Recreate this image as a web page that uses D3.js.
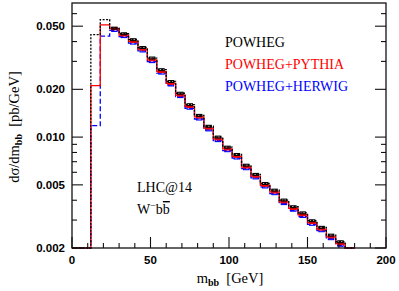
<!DOCTYPE html>
<html>
<head>
<meta charset="utf-8">
<script src="https://cdn.jsdelivr.net/npm/d3@7"></script>
<style>
  body { margin: 0; background: #fff; }
  svg { display: block; }
</style>
</head>
<body>
<svg id="chart" width="399" height="291"></svg>
<script>
// bin edges in GeV (6 GeV bins), values in pb/GeV, 0 = empty bin
var binEdges = [0, 6, 12, 18, 24, 30, 36, 42, 48, 54, 60, 66, 72, 78, 84, 90, 96, 102, 108,
  114, 120, 126, 132, 138, 144, 150, 156, 162, 168, 174, 180];

var powheg = [0, 0, 0.0442, 0.0550, 0.0486, 0.0448, 0.0411, 0.0367, 0.0315, 0.0266, 0.0224,
  0.0189, 0.0160, 0.0137, 0.0117, 0.0100, 0.00864, 0.00777, 0.00665, 0.00582, 0.00510,
  0.00463, 0.00401, 0.00364, 0.00333, 0.00297, 0.00270, 0.00241, 0.00219, 0];

var pythia = [0, 0, 0.0211, 0.0510, 0.0482, 0.0440, 0.0401, 0.0358, 0.0307, 0.0259, 0.0218,
  0.0184, 0.0156, 0.0134, 0.0114, 0.00975, 0.00842, 0.00757, 0.00648, 0.00567, 0.00497,
  0.00451, 0.00391, 0.00355, 0.00324, 0.00289, 0.00263, 0.00235, 0.00213, 0];

var herwig = [0, 0, 0.0118, 0.0433, 0.0470, 0.0430, 0.0391, 0.0349, 0.0299, 0.0253, 0.0213,
  0.0180, 0.0152, 0.0130, 0.0111, 0.00950, 0.00821, 0.00738, 0.00632, 0.00553, 0.00485,
  0.00440, 0.00381, 0.00346, 0.00316, 0.00282, 0.00257, 0.00229, 0.00208, 0];

var yMajor = [0.002, 0.005, 0.01, 0.02, 0.05];
var yMajorLabels = ["0.002", "0.005", "0.010", "0.020", "0.050"];
var yMinor = [0.003, 0.004, 0.006, 0.007, 0.008, 0.009, 0.03, 0.04, 0.06];
var xMajor = [0, 50, 100, 150, 200];

var series = [
  {name: "POWHEG+HERWIG", values: herwig, color: "#0000ff", dash: "5,2.5"},
  {name: "POWHEG+PYTHIA", values: pythia, color: "#ff0000", dash: null},
  {name: "POWHEG", values: powheg, color: "#000000", dash: "2,1.5"}
];

var svg = d3.select("#chart");
var margin = {top: 3, right: 13, bottom: 43, left: 72};
var width = 399, height = 291;

var x = d3.scaleLinear().domain([0, 200]).range([margin.left, width - margin.right]);
var y = d3.scaleLog().domain([0.002, 0.07]).range([height - margin.bottom, margin.top]).clamp(true);

var yv = v => v > 0 ? y(v) : y(0.002);

// histograms
var plot = svg.append("g");
series.forEach(function(s) {
  var pts = [];
  s.values.forEach(function(v, i) {
    pts.push([x(binEdges[i]), yv(v)]);
    pts.push([x(binEdges[i + 1]), yv(v)]);
  });
  plot.append("path")
    .attr("d", d3.line()(pts))
    .attr("fill", "none")
    .attr("stroke", s.color)
    .attr("stroke-width", 1.3)
    .attr("stroke-dasharray", s.dash);

  // small error boxes
  plot.append("g")
    .selectAll("rect")
    .data(s.values.map((v, i) => ({v: v, i: i})).filter(d => d.v > 0 && binEdges[d.i] >= 24))
    .enter().append("rect")
      .attr("x", d => x(binEdges[d.i]) + 2)
      .attr("width", d => x(binEdges[d.i + 1]) - x(binEdges[d.i]) - 4)
      .attr("y", d => y(d.v * 1.014))
      .attr("height", d => y(d.v * 0.986) - y(d.v * 1.014))
      .attr("fill", "none")
      .attr("stroke", s.color)
      .attr("stroke-width", 1.1);
});

// frame
svg.append("rect")
  .attr("x", x(0)).attr("y", margin.top)
  .attr("width", x(200) - x(0)).attr("height", y(0.002) - margin.top)
  .attr("fill", "none").attr("stroke", "#111").attr("stroke-width", 1.3);

var axisG = svg.append("g").attr("stroke", "#111").attr("stroke-width", 1.1);

// x ticks (inward, bottom)
d3.range(0, 201, 10).forEach(function(t) {
  var len = t % 50 === 0 ? 11 : 5;
  axisG.append("line")
    .attr("x1", x(t)).attr("x2", x(t))
    .attr("y1", y(0.002)).attr("y2", y(0.002) - len);
});

// y ticks (inward, left and right)
yMajor.concat(yMinor).forEach(function(t) {
  var len = yMajor.indexOf(t) >= 0 ? 11 : 5;
  axisG.append("line")
    .attr("x1", x(0)).attr("x2", x(0) + len)
    .attr("y1", y(t)).attr("y2", y(t));
  axisG.append("line")
    .attr("x1", x(200)).attr("x2", x(200) - len)
    .attr("y1", y(t)).attr("y2", y(t));
});

// tick labels
svg.append("g")
    .attr("font-family", "Liberation Sans, Arial, sans-serif")
    .attr("font-weight", "bold")
    .attr("font-size", 11.5)
    .attr("text-anchor", "end")
  .selectAll("text")
  .data(yMajor)
  .enter().append("text")
    .attr("x", x(0) - 7)
    .attr("y", d => y(d))
    .attr("dy", "0.36em")
    .text((d, i) => yMajorLabels[i]);

svg.append("g")
    .attr("font-family", "Liberation Sans, Arial, sans-serif")
    .attr("font-weight", "bold")
    .attr("font-size", 11.5)
    .attr("text-anchor", "middle")
  .selectAll("text")
  .data(xMajor)
  .enter().append("text")
    .attr("x", d => x(d))
    .attr("y", 264)
    .text(d => d);

var serif = "Liberation Serif, Times New Roman, serif";

// axis titles
var xt = svg.append("text")
  .attr("font-family", serif).attr("font-size", 14.5)
  .attr("text-anchor", "middle")
  .attr("x", 230).attr("y", 283);
xt.append("tspan").text("m");
xt.append("tspan").attr("font-size", 10).attr("dy", 3).attr("font-weight", "bold").text("bb");
xt.append("tspan").attr("dy", -3).text("\u00a0 [GeV]");

var yt = svg.append("text")
  .attr("font-family", serif).attr("font-size", 14.5)
  .attr("text-anchor", "middle")
  .attr("transform", "translate(19,127) rotate(-90)");
yt.append("tspan").text("d\u03c3/dm");
yt.append("tspan").attr("font-size", 10).attr("dy", 3).attr("font-weight", "bold").text("bb");
yt.append("tspan").attr("dy", -3).text("\u00a0 [pb/GeV]");

// legend
var legend = svg.append("g")
  .attr("font-family", serif).attr("font-size", 14);
[series[2], series[1], series[0]].forEach(function(s, i) {
  legend.append("text")
    .attr("x", 225).attr("y", 47 + i * 22)
    .attr("fill", s.color)
    .text(s.name);
});

// process labels
var lab = svg.append("g").attr("font-family", serif).attr("font-size", 14);
lab.append("text").attr("x", 137).attr("y", 192).text("LHC@14");
var wl = lab.append("text").attr("x", 137).attr("y", 214);
wl.append("tspan").text("W");
wl.append("tspan").attr("dy", -5).attr("font-size", 10).text("\u2212");
wl.append("tspan").attr("dy", 5).text("b");
wl.append("tspan").style("text-decoration", "overline").text("b");
</script>
</body>
</html>
